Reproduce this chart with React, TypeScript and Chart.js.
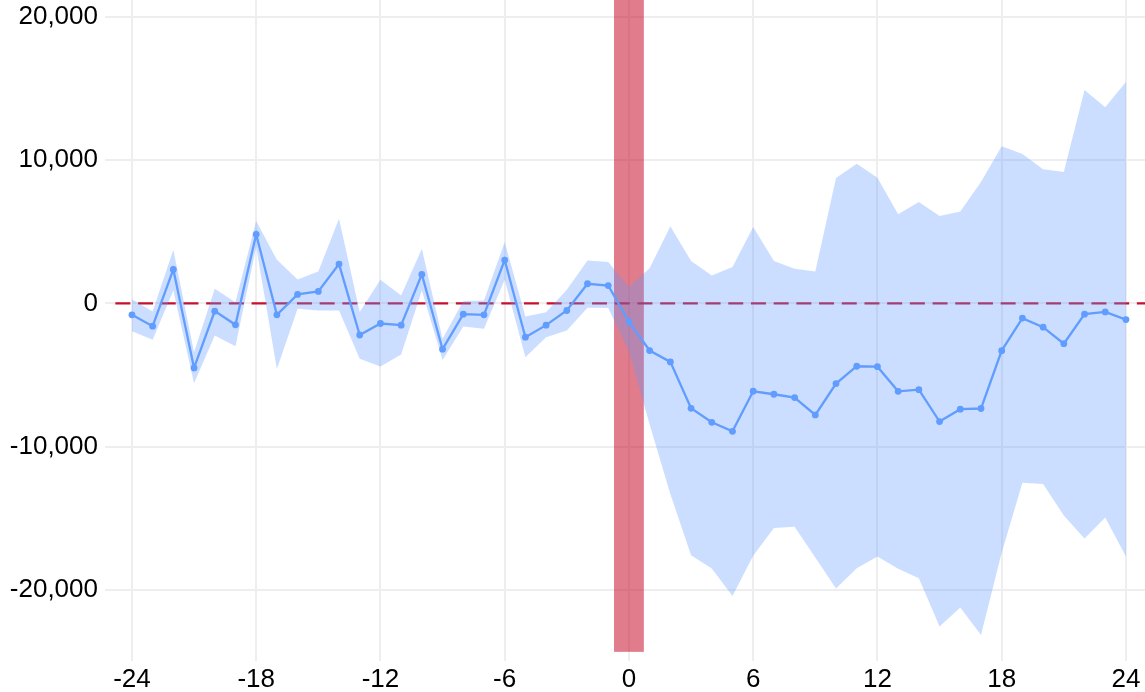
import React, { useEffect, useRef } from "react";
import { Chart, registerables } from "chart.js";

Chart.register(...registerables);

const periods = [
  -24, -23, -22, -21, -20, -19, -18, -17, -16, -15, -14, -13, -12, -11, -10, -9, -8, -7, -6, -5, -4, -3, -2, -1,
  0, 1, 2, 3, 4, 5, 6, 7, 8, 9, 10, 11, 12, 13, 14, 15, 16, 17, 18, 19, 20, 21, 22, 23, 24,
];

const estimate = [
  -790, -1584, 2375, -4494, -535, -1490, 4820, -790, 629, 838, 2747, -2200, -1397, -1513, 2026, -3190, -745, -790,
  3027, -2352, -1513, -490, 1374, 1250, -1281, -3283, -4075, -7311, -8290, -8918, -6124, -6333, -6566, -7778, -5589,
  -4378, -4410, -6126, -6015, -8236, -7377, -7328, -3290, -1020, -1656, -2808, -747, -587, -1125,
];

const upperCI = [
  300, -559, 3750, -3400, 1024, 93, 5750, 3050, 1677, 2235, 5915, -600, 1654, 559, 3819, -2468, 163, 210, 4284, -908,
  -606, 955, 3004, 2887, 1150, 2450, 5379, 2957, 1956, 2538, 5332, 2957, 2422, 2235, 8754, 9740, 8760, 6225, 7083,
  6092, 6413, 8474, 10960, 10423, 9354, 9172, 14887, 13685, 15452,
];

const lowerCI = [
  -1932, -2538, 908, -5565, -2235, -2980, 3935, -4565, -372, -490, -490, -3865, -4400, -3563, 908, -3935, -1607,
  -1770, 1654, -3748, -2352, -1886, -303, -315, -3350, -8450, -13295, -17557, -18490, -20398, -17604, -15670, -15578,
  -17720, -19887, -18466, -17646, -18498, -19168, -22536, -21202, -23123, -17380, -12511, -12595, -14782, -16388,
  -14921, -17646,
];

const xTicks = [-24, -18, -12, -6, 0, 6, 12, 18, 24];
const yTicks = [-20000, -10000, 0, 10000, 20000];

const eventPeriod = 0;
const eventHalfWidth = 0.72;
const eventBottom = -24300;
const referenceValue = 0;

const FONT = "'Liberation Sans', Arial, Helvetica, sans-serif";

const overlayPlugin = {
  id: "overlay",
  beforeDatasetsDraw(chart: any) {
    const { ctx, chartArea, scales } = chart;
    const xs = scales.x;
    const ys = scales.y;
    ctx.save();
    const y0 = ys.getPixelForValue(referenceValue);
    ctx.strokeStyle = "#C8102E";
    ctx.lineWidth = 2.2;
    ctx.setLineDash([15, 7.7]);
    ctx.beginPath();
    ctx.moveTo(xs.getPixelForValue(-24.8), y0);
    ctx.lineTo(chartArea.right, y0);
    ctx.stroke();
    ctx.setLineDash([]);
    const x1 = xs.getPixelForValue(eventPeriod - eventHalfWidth);
    const x2 = xs.getPixelForValue(eventPeriod + eventHalfWidth);
    const yb = ys.getPixelForValue(eventBottom);
    ctx.fillStyle = "rgba(200,16,46,0.55)";
    ctx.fillRect(x1, chartArea.top, x2 - x1, yb - chartArea.top);
    ctx.restore();
  },
};

export default function App() {
  const ref = useRef<HTMLCanvasElement>(null);

  useEffect(() => {
    if (!ref.current) return;
    const chart = new Chart(ref.current, {
      type: "line",
      data: {
        datasets: [
          {
            label: "lower",
            data: periods.map((p, i) => ({ x: p, y: lowerCI[i] })),
            borderWidth: 0,
            pointRadius: 0,
            fill: false,
            order: 3,
          },
          {
            label: "upper",
            data: periods.map((p, i) => ({ x: p, y: upperCI[i] })),
            borderWidth: 0,
            pointRadius: 0,
            backgroundColor: "rgba(97,156,255,0.33)",
            fill: "-1",
            order: 2,
          },
          {
            label: "estimate",
            data: periods.map((p, i) => ({ x: p, y: estimate[i] })),
            borderColor: "#619CFF",
            backgroundColor: "#619CFF",
            borderWidth: 2.3,
            pointRadius: 3.4,
            pointBackgroundColor: "#619CFF",
            pointBorderWidth: 0,
            fill: false,
            order: 1,
          },
        ],
      },
      options: {
        responsive: false,
        animation: false,
        layout: { padding: 0, autoPadding: false },
        plugins: {
          legend: { display: false },
          tooltip: { enabled: false },
        },
        scales: {
          x: {
            type: "linear",
            min: -25.3,
            max: 24.92,
            border: { display: false },
            grid: { color: "#EEEEEE", lineWidth: 2, drawTicks: false },
            afterBuildTicks: (scale: any) => {
              scale.ticks = xTicks.map((v) => ({ value: v }));
            },
            afterFit: (scale: any) => {
              scale.height = 30;
              scale.paddingLeft = 0;
              scale.paddingRight = 0;
            },
            ticks: {
              color: "#000",
              padding: 6,
              maxRotation: 0,
              autoSkip: false,
              font: { family: FONT, size: 26, lineHeight: 1 },
              callback: (v: any) => String(v),
            },
          },
          y: {
            type: "linear",
            min: -24939,
            max: 21167,
            border: { display: false },
            grid: { color: "#EEEEEE", lineWidth: 2, drawTicks: false },
            afterBuildTicks: (scale: any) => {
              scale.ticks = yTicks.map((v) => ({ value: v }));
            },
            afterFit: (scale: any) => {
              scale.width = 105;
              scale.paddingTop = 0;
              scale.paddingBottom = 0;
            },
            ticks: {
              color: "#000",
              padding: 7,
              autoSkip: false,
              font: { family: FONT, size: 26, lineHeight: 1 },
              callback: (v: any) => Number(v).toLocaleString("en-US"),
            },
          },
        },
      },
      plugins: [overlayPlugin],
    });
    return () => chart.destroy();
  }, []);

  return (
    <div style={{ position: "absolute", left: 0, top: 0, width: 1145, height: 692, background: "#fff" }}>
      <canvas ref={ref} width={1145} height={691} style={{ display: "block" }} />
    </div>
  );
}
